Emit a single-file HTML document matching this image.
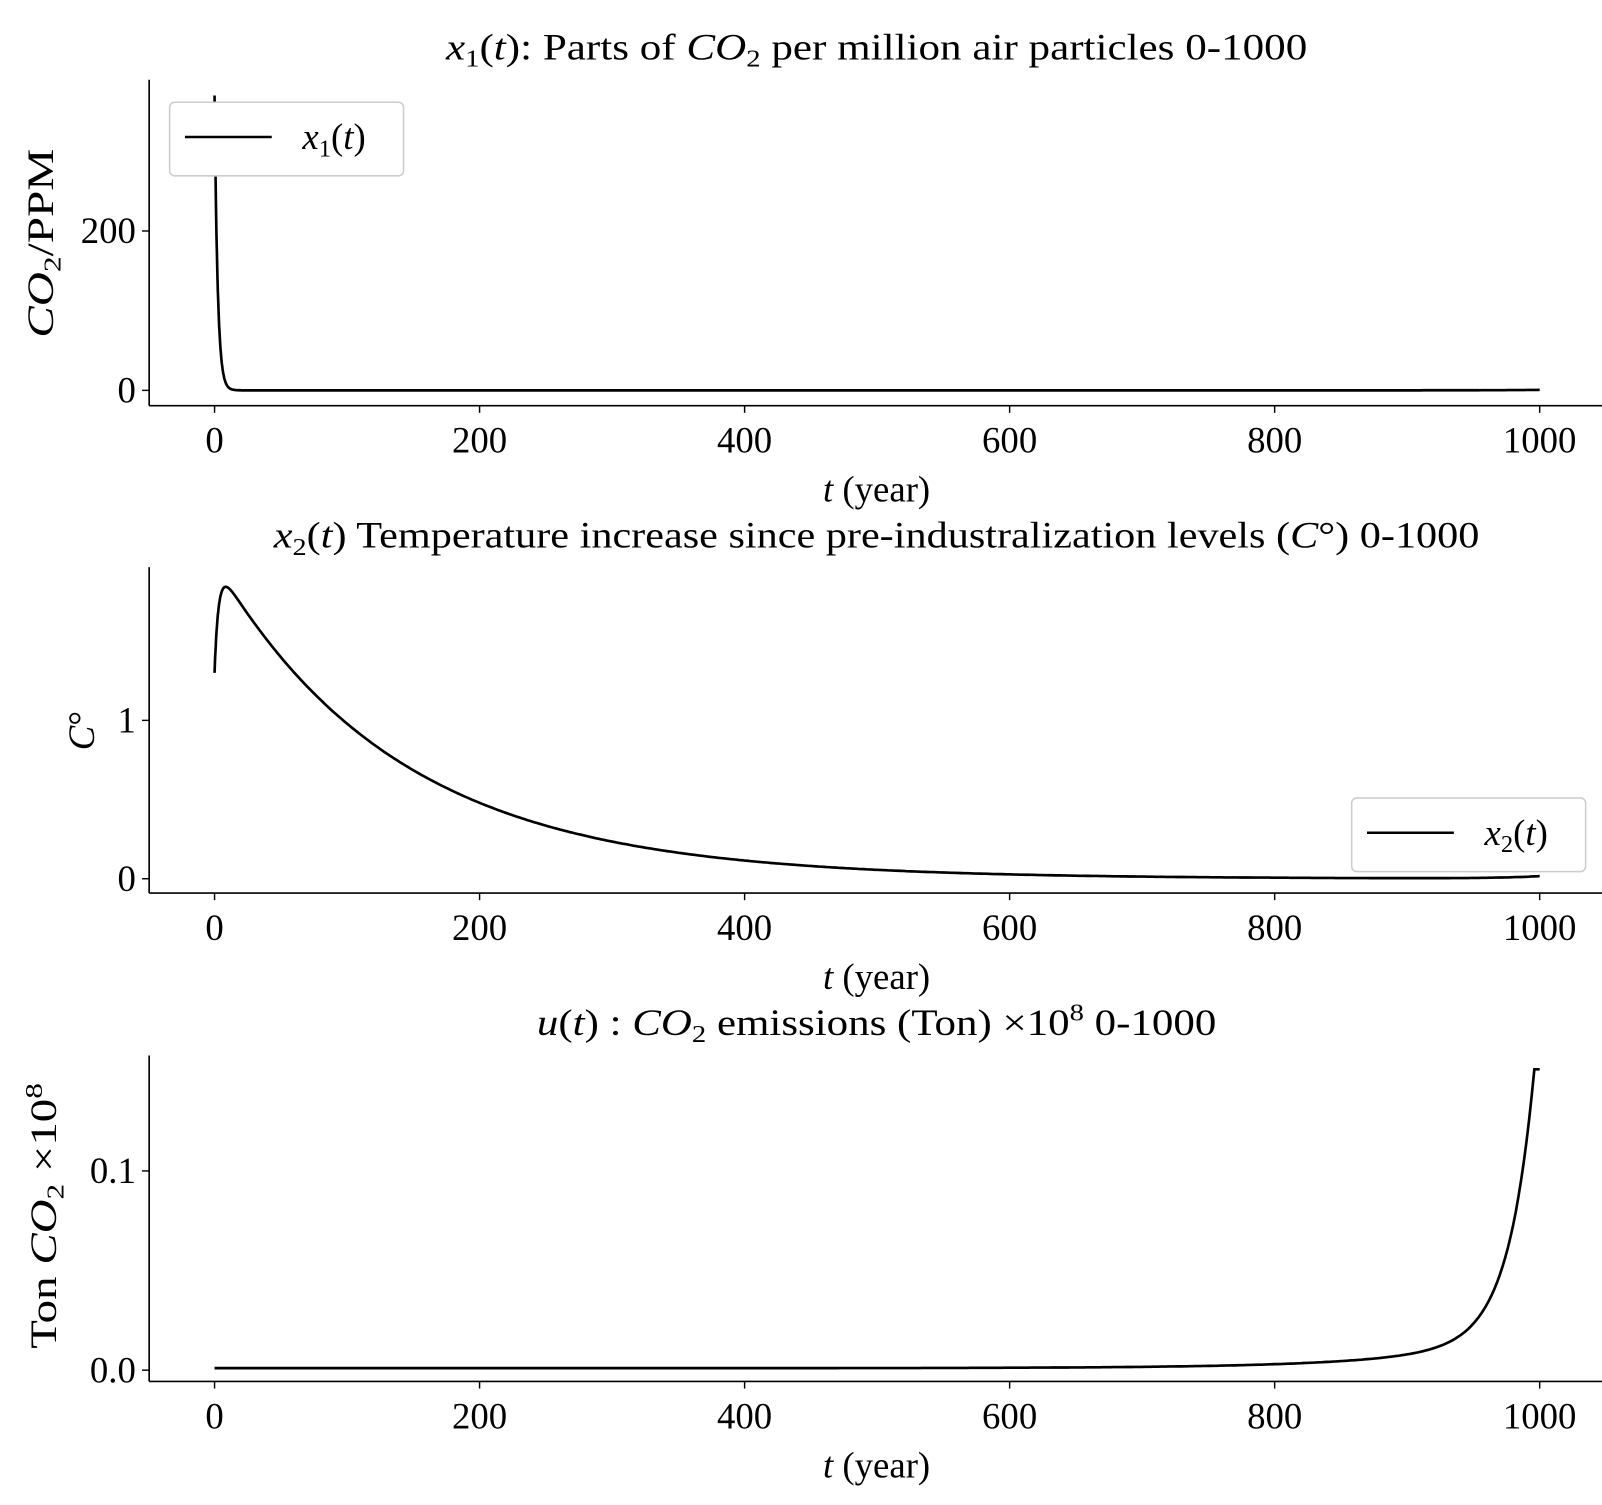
<!DOCTYPE html>
<html><head><meta charset="utf-8"><style>
html,body{margin:0;padding:0;background:#fff}
svg text{font-family:"Liberation Serif",serif;fill:#000}
</style></head><body>
<svg id="s" width="1602" height="1500" viewBox="0 0 1568 1468" xmlns="http://www.w3.org/2000/svg">
<g id="g"></g>
<text x="858" y="58" font-size="36" text-anchor="middle" textLength="843" lengthAdjust="spacingAndGlyphs"><tspan font-style="italic">x</tspan><tspan font-size="24" dy="7">1</tspan><tspan dy="-7">(</tspan><tspan font-style="italic">t</tspan>): Parts of <tspan font-style="italic">CO</tspan><tspan font-size="24" dy="7">2</tspan><tspan dy="-7"> per million air particles 0-1000</tspan></text>
<text x="858" y="536" font-size="36" text-anchor="middle" textLength="1180" lengthAdjust="spacingAndGlyphs"><tspan font-style="italic">x</tspan><tspan font-size="24" dy="7">2</tspan><tspan dy="-7">(</tspan><tspan font-style="italic">t</tspan>) Temperature increase since pre-industralization levels (<tspan font-style="italic">C</tspan>°) 0-1000</text>
<text x="858" y="1013" font-size="36" text-anchor="middle" textLength="665" lengthAdjust="spacingAndGlyphs"><tspan font-style="italic">u</tspan>(<tspan font-style="italic">t</tspan>) : <tspan font-style="italic">CO</tspan><tspan font-size="24" dy="7">2</tspan><tspan dy="-7"> emissions (Ton) ×10</tspan><tspan font-size="24" dy="-14">8</tspan><tspan dy="14"> 0-1000</tspan></text>
<text transform="translate(52,238) rotate(-90)" font-size="36" text-anchor="middle" textLength="185" lengthAdjust="spacingAndGlyphs"><tspan font-style="italic">CO</tspan><tspan font-size="24" dy="7">2</tspan><tspan dy="-7">/PPM</tspan></text>
<text transform="translate(92,715) rotate(-90)" font-size="36" text-anchor="middle"><tspan font-style="italic">C</tspan>°</text>
<text transform="translate(55,1190) rotate(-90)" font-size="36" text-anchor="middle" textLength="260" lengthAdjust="spacingAndGlyphs">Ton <tspan font-style="italic">CO</tspan><tspan font-size="24" dy="7">2</tspan><tspan dy="-7"> ×10</tspan><tspan font-size="24" dy="-14">8</tspan></text>
<rect x="166" y="100" width="229" height="72" rx="5" fill="#fff" stroke="#ccc" stroke-width="1.5"/>
<line x1="181" y1="134" x2="266" y2="134" stroke="#000" stroke-width="2.5"/>
<text x="296" y="146" font-size="36"><tspan font-style="italic">x</tspan><tspan font-size="24" dy="7">1</tspan><tspan dy="-7">(</tspan><tspan font-style="italic">t</tspan>)</text>
<rect x="1323" y="781" width="229" height="72" rx="5" fill="#fff" stroke="#ccc" stroke-width="1.5"/>
<line x1="1338" y1="815" x2="1423" y2="815" stroke="#000" stroke-width="2.5"/>
<text x="1453" y="827" font-size="36"><tspan font-style="italic">x</tspan><tspan font-size="24" dy="7">2</tspan><tspan dy="-7">(</tspan><tspan font-style="italic">t</tspan>)</text>
</svg>
<script>
var g=document.getElementById('g'),ns="http://www.w3.org/2000/svg";
function el(t,a,txt){var e=document.createElementNS(ns,t);for(var k in a)e.setAttribute(k,a[k]);if(txt!==undefined)e.textContent=txt;g.appendChild(e);return e;}
function X(t){return 210+t*1.297;}
var panels=[
 {ax:397,top:78,y0:382,k:0.78,yt:[[0,"0"],[200,"200"]],f:function(t){return 370*Math.exp(-t/2.3)+0.6*Math.exp((t-1000)/40);}},
 {ax:874,top:555,y0:860,k:155,yt:[[0,"0"],[1,"1"]],f:function(t){return 2.0*Math.exp(-t/140)*(1-0.35*Math.exp(-t/3))+0.015*Math.exp((t-1000)/30);}},
 {ax:1352,top:1033,y0:1341,k:1950,yt:[[0,"0.0"],[0.1,"0.1"]],f:function(t){var v=0.001+0.002*Math.exp((t-800)/90)+0.14*Math.exp((t-997)/19);return Math.min(v,0.151);}}
];
panels.forEach(function(p){
 el('line',{x1:146,y1:p.top,x2:146,y2:p.ax,stroke:'#000','stroke-width':1.6});
 el('line',{x1:146,y1:p.ax,x2:1568,y2:p.ax,stroke:'#000','stroke-width':1.6});
 for(var t=0;t<=1000;t+=200){el('line',{x1:X(t),y1:p.ax,x2:X(t),y2:p.ax+7,stroke:'#000','stroke-width':1.4});
  el('text',{x:X(t),y:p.ax+46,'font-size':36,'text-anchor':'middle'},String(t));}
 p.yt.forEach(function(v){var y=p.y0-v[0]*p.k;el('line',{x1:139,y1:y,x2:146,y2:y,stroke:'#000','stroke-width':1.4});
  el('text',{x:133,y:y+12,'font-size':36,'text-anchor':'end'},v[1]);});
 var tl=el('text',{x:858,y:p.ax+94,'font-size':36,'text-anchor':'middle'});
 tl.innerHTML='<tspan font-style="italic">t</tspan> (year)';
 var d='';for(var t=0;t<=1000;t+=(t<20?0.25:2)){var y=p.y0-p.f(t)*p.k;d+=(d?'L':'M')+X(t).toFixed(1)+' '+y.toFixed(1);}
 el('path',{d:d,fill:'none',stroke:'#000','stroke-width':2.6});
});
</script>
</body></html>
